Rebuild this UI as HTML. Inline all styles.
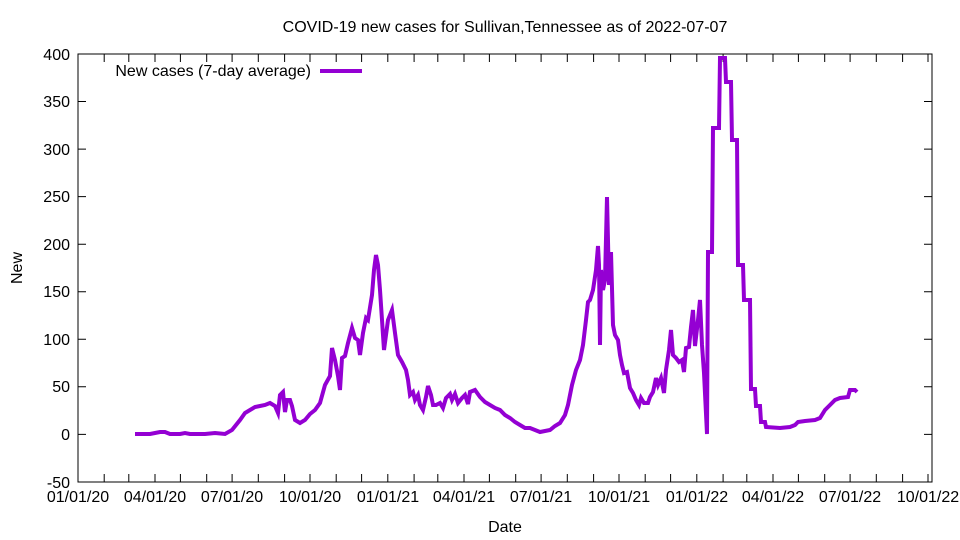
<!DOCTYPE html>
<html><head><meta charset="utf-8"><style>body{margin:0;background:#fff}svg{display:block}text{font-family:"Liberation Sans",sans-serif;font-size:16px;fill:#000}</style></head><body>
<svg width="960" height="540" viewBox="0 0 960 540" xmlns="http://www.w3.org/2000/svg">
<text x="505" y="32" text-anchor="middle">COVID-19 new cases for Sullivan,Tennessee as of 2022-07-07</text>
<rect x="78" y="54" width="854" height="428" fill="none" stroke="#000" stroke-width="1"/>
<g stroke="#000" stroke-width="1" id="ticks">
<path d="M78 434.4h8M932 434.4h-8M78 386.8h8M932 386.8h-8M78 339.3h8M932 339.3h-8M78 291.7h8M932 291.7h-8M78 244.2h8M932 244.2h-8M78 196.6h8M932 196.6h-8M78 149.1h8M932 149.1h-8M78 101.5h8M932 101.5h-8"/>
<path d="M78 482v-8M78 54v8M104.2 482v-8M104.2 54v8M128.8 482v-8M128.8 54v8M155 482v-8M155 54v8M180.4 482v-8M180.4 54v8M206.7 482v-8M206.7 54v8M232.1 482v-8M232.1 54v8M258.3 482v-8M258.3 54v8M284.6 482v-8M284.6 54v8M310 482v-8M310 54v8M336.2 482v-8M336.2 54v8M361.6 482v-8M361.6 54v8M387.8 482v-8M387.8 54v8M414.1 482v-8M414.1 54v8M437.8 482v-8M437.8 54v8M464 482v-8M464 54v8M489.4 482v-8M489.4 54v8M515.7 482v-8M515.7 54v8M541.1 482v-8M541.1 54v8M567.3 482v-8M567.3 54v8M593.6 482v-8M593.6 54v8M619 482v-8M619 54v8M645.2 482v-8M645.2 54v8M670.6 482v-8M670.6 54v8M696.8 482v-8M696.8 54v8M723.1 482v-8M723.1 54v8M746.8 482v-8M746.8 54v8M773 482v-8M773 54v8M798.4 482v-8M798.4 54v8M824.7 482v-8M824.7 54v8M850.1 482v-8M850.1 54v8M876.3 482v-8M876.3 54v8M902.6 482v-8M902.6 54v8M928 482v-8M928 54v8"/>
</g>
<g text-anchor="end">
<text x="70" y="440">0</text><text x="70" y="392">50</text><text x="70" y="345">100</text><text x="70" y="297">150</text><text x="70" y="250">200</text><text x="70" y="202">250</text><text x="70" y="155">300</text><text x="70" y="107">350</text><text x="70" y="60">400</text><text x="70" y="488">-50</text>
</g>
<g text-anchor="middle">
<text x="78" y="502">01/01/20</text><text x="155" y="502">04/01/20</text><text x="232" y="502">07/01/20</text><text x="310" y="502">10/01/20</text><text x="388" y="502">01/01/21</text><text x="464" y="502">04/01/21</text><text x="541" y="502">07/01/21</text><text x="619" y="502">10/01/21</text><text x="697" y="502">01/01/22</text><text x="773" y="502">04/01/22</text><text x="850" y="502">07/01/22</text><text x="928" y="502">10/01/22</text>
<text x="505" y="532">Date</text>
</g>
<text transform="translate(22,268) rotate(-90)" text-anchor="middle">New</text>
<text x="311" y="76" text-anchor="end">New cases (7-day average)</text>
<line x1="320" y1="71" x2="362" y2="71" stroke="#9400d3" stroke-width="4"/>
<polyline fill="none" stroke="#9400d3" stroke-width="4" stroke-linejoin="miter" points="135,434 150,434 155,433 160,432 165,432 170,434 180,434 185,433 190,434 200,434 205,434 215,433 225,434 232,430 236,425 240,420 245,413 250,410 255,407 260,406 265,405 270,403 275,406 278,413 280,395 283,392 285,412 287,400 290,400 292,406 295,420 300,423 305,420 310,414 315,410 320,403 325,385 330,376 332,348 335,360 338,376 340,390 342,358 345,356 348,343 352,328 355,338 358,340 360,355 363,333 366,318 368,320 372,295 374,270 376,255 378,265 380,290 382,320 384,350 386,335 388,320 392,310 395,333 398,355 402,362 406,370 408,380 410,395 413,392 415,400 418,395 420,405 423,410 426,397 428,386 431,395 433,405 436,405 440,403 443,408 446,398 450,394 452,400 455,394 458,403 462,398 465,395 468,404 470,392 475,390 480,397 485,402 490,405 495,408 500,410 505,415 510,418 515,422 520,425 525,428 530,428 535,430 540,432 545,431 550,430 555,426 560,423 565,415 568,405 572,385 576,370 580,360 583,345 586,320 588,302 590,300 593,290 596,270 598,246 599,265 600,345 601,270 603,290 605,280 607,197 609,285 611,252 613,325 615,335 618,340 620,355 622,365 624,373 627,372 630,388 633,393 636,400 639,405 641,398 644,403 648,403 650,397 653,392 656,378 658,385 661,378 664,393 666,370 669,350 671,330 673,355 676,358 679,362 682,360 684,372 686,348 689,347 691,327 693,310 695,346 698,320 700,300 702,345 704,373 707,434 708,252 712,252 713,128 719,128 720,58 725,58 726,82 731,82 732,140 737,140 738,265 743,265 744,300 750,300 751,389 755,389 756,406 760,406 761,422 765,422 766,427 780,428 790,427 795,425 798,422 805,421 815,420 820,418 825,410 830,405 835,400 840,398 848,397 850,390 855,390 857,392"/>
</svg>
</body></html>
